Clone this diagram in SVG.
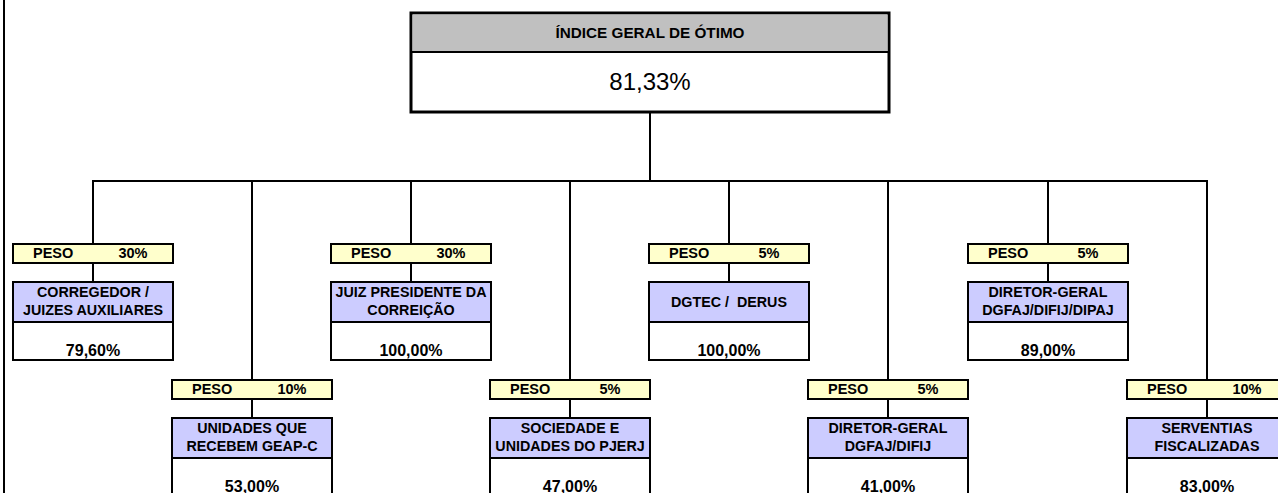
<svg xmlns="http://www.w3.org/2000/svg" width="1278" height="493" viewBox="0 0 1278 493">
<style>
text{font-family:"Liberation Sans",Arial,sans-serif;fill:#000}
.c{stroke:#000;stroke-width:2;fill:none}
.peso{fill:#FFFFCC;stroke:#000;stroke-width:2}
.hd{fill:#CCCCFF;stroke:#000;stroke-width:2}
.val{fill:#FFFFFF;stroke:#000;stroke-width:2}
.pt{font-size:14.5px;font-weight:bold}
.pp{font-size:14.5px;font-weight:bold;text-anchor:middle}
.ht{font-size:14.3px;font-weight:bold;text-anchor:middle}
.vt{font-size:16px;font-weight:bold;text-anchor:middle}
</style>
<rect x="0" y="0" width="1278" height="493" fill="#FFFFFF"/>
<line x1="4" y1="0" x2="4" y2="493" stroke="#000" stroke-width="2"/>
<g id="connectors">
<line class="c" x1="650" y1="112" x2="650" y2="181"/>
<line class="c" x1="92" y1="181" x2="1208" y2="181"/>
<line class="c" x1="93" y1="181" x2="93" y2="282"/>
<line class="c" x1="252" y1="181" x2="252" y2="418"/>
<line class="c" x1="411" y1="181" x2="411" y2="282"/>
<line class="c" x1="570" y1="181" x2="570" y2="418"/>
<line class="c" x1="729" y1="181" x2="729" y2="282"/>
<line class="c" x1="888" y1="181" x2="888" y2="418"/>
<line class="c" x1="1048" y1="181" x2="1048" y2="282"/>
<line class="c" x1="1207" y1="181" x2="1207" y2="418"/>
</g>
<g id="root">
<rect x="411" y="13" width="478" height="99" fill="#FFFFFF" stroke="#000" stroke-width="3"/>
<rect x="412.5" y="14.5" width="475" height="37.5" fill="#C0C0C0"/>
<line x1="411" y1="52" x2="889" y2="52" stroke="#000" stroke-width="2"/>
<text x="650" y="38" font-size="14px" font-weight="bold" text-anchor="middle" textLength="189" lengthAdjust="spacingAndGlyphs">ÍNDICE GERAL DE ÓTIMO</text>
<text x="650" y="90" font-size="24px" text-anchor="middle">81,33%</text>
</g>
<g id="n1">
<rect class="peso" x="13" y="244" width="160" height="19"/>
<text class="pt" x="33" y="258">PESO</text><text class="pp" x="133" y="258">30%</text>
<rect class="val" x="13" y="282" width="160" height="78"/>
<rect class="hd" x="13" y="282" width="160" height="40"/>
<text class="ht" x="93" y="297">CORREGEDOR /</text>
<text class="ht" x="93" y="315">JUIZES AUXILIARES</text>
<text class="vt" x="93" y="356">79,60%</text>
</g>
<g id="n2">
<rect class="peso" x="172" y="380" width="160" height="19"/>
<text class="pt" x="192" y="394">PESO</text><text class="pp" x="292" y="394">10%</text>
<rect class="val" x="172" y="418" width="160" height="78"/>
<rect class="hd" x="172" y="418" width="160" height="40"/>
<text class="ht" x="252" y="433">UNIDADES QUE</text>
<text class="ht" x="252" y="451">RECEBEM GEAP-C</text>
<text class="vt" x="252" y="492">53,00%</text>
</g>
<g id="n3">
<rect class="peso" x="331" y="244" width="160" height="19"/>
<text class="pt" x="351" y="258">PESO</text><text class="pp" x="451" y="258">30%</text>
<rect class="val" x="331" y="282" width="160" height="78"/>
<rect class="hd" x="331" y="282" width="160" height="40"/>
<text class="ht" x="411" y="297">JUIZ PRESIDENTE DA</text>
<text class="ht" x="411" y="315">CORREIÇÃO</text>
<text class="vt" x="411" y="356">100,00%</text>
</g>
<g id="n4">
<rect class="peso" x="490" y="380" width="160" height="19"/>
<text class="pt" x="510" y="394">PESO</text><text class="pp" x="610" y="394">5%</text>
<rect class="val" x="490" y="418" width="160" height="78"/>
<rect class="hd" x="490" y="418" width="160" height="40"/>
<text class="ht" x="570" y="433">SOCIEDADE E</text>
<text class="ht" x="570" y="451">UNIDADES DO PJERJ</text>
<text class="vt" x="570" y="492">47,00%</text>
</g>
<g id="n5">
<rect class="peso" x="649" y="244" width="160" height="19"/>
<text class="pt" x="669" y="258">PESO</text><text class="pp" x="769" y="258">5%</text>
<rect class="val" x="649" y="282" width="160" height="78"/>
<rect class="hd" x="649" y="282" width="160" height="40"/>
<text class="ht" x="729" y="307" xml:space="preserve">DGTEC /  DERUS</text>
<text class="vt" x="729" y="356">100,00%</text>
</g>
<g id="n6">
<rect class="peso" x="808" y="380" width="160" height="19"/>
<text class="pt" x="828" y="394">PESO</text><text class="pp" x="928" y="394">5%</text>
<rect class="val" x="808" y="418" width="160" height="78"/>
<rect class="hd" x="808" y="418" width="160" height="40"/>
<text class="ht" x="888" y="433">DIRETOR-GERAL</text>
<text class="ht" x="888" y="451">DGFAJ/DIFIJ</text>
<text class="vt" x="888" y="492">41,00%</text>
</g>
<g id="n7">
<rect class="peso" x="968" y="244" width="160" height="19"/>
<text class="pt" x="988" y="258">PESO</text><text class="pp" x="1088" y="258">5%</text>
<rect class="val" x="968" y="282" width="160" height="78"/>
<rect class="hd" x="968" y="282" width="160" height="40"/>
<text class="ht" x="1048" y="297">DIRETOR-GERAL</text>
<text class="ht" x="1048" y="315">DGFAJ/DIFIJ/DIPAJ</text>
<text class="vt" x="1048" y="356">89,00%</text>
</g>
<g id="n8">
<rect class="peso" x="1127" y="380" width="160" height="19"/>
<text class="pt" x="1147" y="394">PESO</text><text class="pp" x="1247" y="394">10%</text>
<rect class="val" x="1127" y="418" width="160" height="78"/>
<rect class="hd" x="1127" y="418" width="160" height="40"/>
<text class="ht" x="1207" y="433">SERVENTIAS</text>
<text class="ht" x="1207" y="451">FISCALIZADAS</text>
<text class="vt" x="1207" y="492">83,00%</text>
</g>
</svg>
